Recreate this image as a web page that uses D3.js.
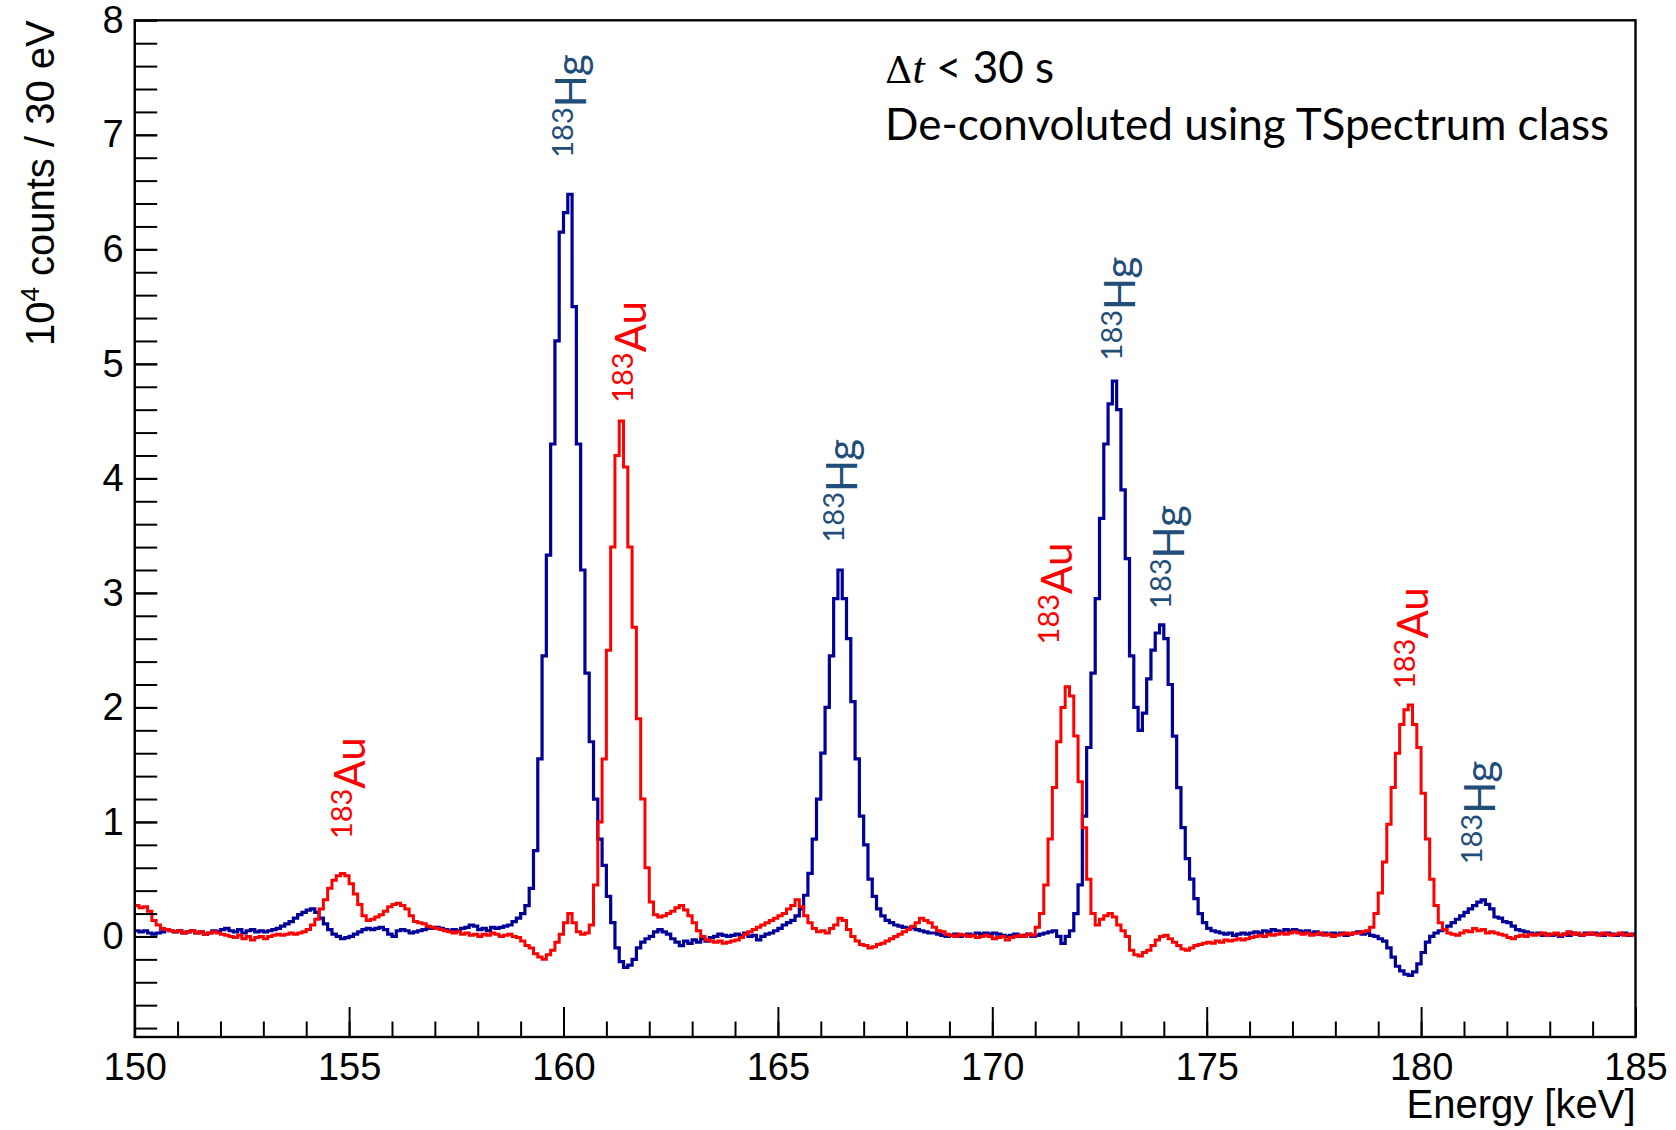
<!DOCTYPE html>
<html>
<head>
<meta charset="utf-8">
<script src="https://cdn.jsdelivr.net/npm/d3@7"></script>
<style>
  body { margin: 0; background: #fff; }
</style>
</head>
<body>
<svg id="chart" width="1676" height="1130"></svg>
<script>
// histogram binning: 0.1 keV bins from 150 keV
const binLow = 150;
const binWidth = 0.1;

// 183Hg spectrum, 10^4 counts, one row per keV
const hgCounts = [
  0.05, 0.04, 0.05, 0.03, 0.02, 0.03, 0.04, 0.06, 0.05, 0.04,
  0.05, 0.03, 0.04, 0.05, 0.03, 0.04, 0.02, 0.03, 0.05, 0.04,
  0.06, 0.07, 0.05, 0.04, 0.06, 0.03, 0.05, 0.06, 0.04, 0.05,
  0.04, 0.05, 0.06, 0.07, 0.09, 0.11, 0.13, 0.16, 0.19, 0.21,
  0.23, 0.24, 0.21, 0.16, 0.11, 0.06, 0.02, 0.00, -0.02, -0.01,
  0.00, 0.02, 0.04, 0.06, 0.07, 0.06, 0.07, 0.08, 0.06, 0.02,
  0.00, 0.05, 0.06, 0.05, 0.03, 0.04, 0.05, 0.06, 0.07, 0.07,
  0.08, 0.07, 0.06, 0.05, 0.06, 0.05, 0.07, 0.08, 0.10, 0.09,
  0.06, 0.07, 0.05, 0.08, 0.07, 0.08, 0.09, 0.10, 0.13, 0.16,
  0.20, 0.27, 0.42, 0.75, 1.55, 2.45, 3.33, 4.30, 5.20, 6.15,
  6.32, 6.48, 5.50, 4.30, 3.20, 2.30, 1.70, 1.20, 0.85, 0.62,
  0.35, 0.12, -0.10, -0.22, -0.27, -0.25, -0.20, -0.10, -0.05, -0.02,
  0.00, 0.04, 0.06, 0.04, 0.02, -0.02, -0.05, -0.08, -0.04, -0.06,
  -0.03, -0.05, -0.02, -0.04, -0.01, 0.00, 0.02, 0.01, 0.00, 0.01,
  0.02, 0.01, 0.03, 0.00, 0.01, -0.03, 0.00, 0.02, 0.03, 0.05,
  0.07, 0.10, 0.12, 0.14, 0.18, 0.24, 0.36, 0.55, 0.85, 1.20,
  1.60, 2.00, 2.45, 2.95, 3.20, 2.95, 2.60, 2.05, 1.55, 1.05,
  0.80, 0.50, 0.35, 0.24, 0.18, 0.14, 0.12, 0.10, 0.09, 0.08,
  0.07, 0.08, 0.06, 0.05, 0.04, 0.03, 0.03, 0.02, 0.01, 0.00,
  0.01, 0.02, 0.00, 0.01, 0.02, 0.01, 0.03, 0.02, 0.03, 0.02,
  0.03, 0.02, 0.01, 0.00, 0.01, 0.02, 0.00, 0.01, 0.02, 0.00,
  0.01, 0.02, 0.03, 0.04, 0.05, 0.00, -0.06, 0.00, 0.05, 0.20,
  0.45, 1.05, 1.65, 2.30, 2.95, 3.65, 4.30, 4.65, 4.85, 4.60,
  3.90, 3.30, 2.45, 2.00, 1.80, 1.95, 2.25, 2.50, 2.65, 2.72,
  2.60, 2.20, 1.75, 1.30, 0.95, 0.68, 0.50, 0.33, 0.20, 0.12,
  0.07, 0.05, 0.04, 0.03, 0.02, 0.03, 0.01, 0.02, 0.03, 0.02,
  0.03, 0.04, 0.03, 0.05, 0.04, 0.06, 0.05, 0.04, 0.06, 0.05,
  0.06, 0.05, 0.04, 0.05, 0.03, 0.04, 0.02, 0.03, 0.02, 0.03,
  0.02, 0.03, 0.01, 0.02, 0.03, 0.04, 0.02, 0.03, 0.01, 0.00,
  -0.02, -0.04, -0.10, -0.18, -0.26, -0.30, -0.33, -0.34, -0.31, -0.24,
  -0.14, -0.05, 0.00, 0.03, 0.05, 0.06, 0.09, 0.12, 0.15, 0.18,
  0.21, 0.24, 0.27, 0.30, 0.32, 0.28, 0.24, 0.17, 0.16, 0.13,
  0.12, 0.09, 0.06, 0.05, 0.04, 0.03, 0.02, 0.03, 0.01, 0.02,
  0.01, 0.02, 0.00, 0.02, 0.01, 0.03, 0.02, 0.01, 0.03, 0.02,
  0.03, 0.02, 0.01, 0.03, 0.02, 0.01, 0.02, 0.03, 0.01, 0.02
];

// 183Au spectrum, 10^4 counts, one row per keV
const auCounts = [
  0.27, 0.25, 0.26, 0.22, 0.14, 0.10, 0.07, 0.06, 0.05, 0.04,
  0.05, 0.03, 0.04, 0.05, 0.03, 0.04, 0.02, 0.03, 0.04, 0.03,
  0.02, 0.01, 0.00, -0.01, 0.01, -0.02, 0.00, -0.03, -0.01, 0.00,
  -0.02, 0.00, 0.01, 0.02, 0.01, 0.02, 0.03, 0.02, 0.03, 0.04,
  0.06, 0.10, 0.15, 0.24, 0.32, 0.42, 0.49, 0.53, 0.55, 0.53,
  0.46, 0.37, 0.28, 0.18, 0.14, 0.15, 0.17, 0.19, 0.22, 0.26,
  0.28, 0.29, 0.27, 0.24, 0.18, 0.13, 0.12, 0.11, 0.09, 0.08,
  0.07, 0.06, 0.05, 0.04, 0.03, 0.04, 0.02, 0.03, 0.01, 0.02,
  0.00, 0.02, 0.01, 0.03, 0.02, 0.00, 0.01, 0.02, 0.00, -0.01,
  -0.04, -0.08, -0.10, -0.15, -0.18, -0.20, -0.16, -0.12, -0.05, 0.02,
  0.12, 0.20, 0.12, 0.04, 0.02, 0.03, 0.10, 0.45, 1.00, 1.55,
  2.50, 3.40, 4.20, 4.50, 4.10, 3.40, 2.70, 1.90, 1.20, 0.60,
  0.30, 0.19, 0.17, 0.18, 0.20, 0.22, 0.25, 0.27, 0.23, 0.18,
  0.12, 0.05, 0.00, -0.03, -0.04, -0.05, -0.04, -0.06, -0.05, -0.04,
  -0.03, -0.01, 0.02, 0.04, 0.06, 0.08, 0.10, 0.12, 0.14, 0.16,
  0.18, 0.20, 0.24, 0.27, 0.32, 0.26, 0.18, 0.12, 0.07, 0.04,
  0.05, 0.03, 0.07, 0.10, 0.16, 0.14, 0.06, 0.00, -0.04, -0.07,
  -0.08, -0.10, -0.09, -0.07, -0.06, -0.04, -0.02, 0.00, 0.02, 0.04,
  0.06, 0.09, 0.12, 0.16, 0.14, 0.12, 0.08, 0.05, 0.04, 0.02,
  0.01, 0.00, 0.02, 0.01, 0.00, 0.01, -0.01, 0.00, 0.01, 0.00,
  -0.02, -0.01, 0.00, -0.03, -0.01, 0.00, 0.01, 0.00, 0.02, 0.01,
  0.08, 0.20, 0.45, 0.85, 1.30, 1.70, 2.00, 2.18, 2.10, 1.75,
  1.35, 0.95, 0.50, 0.20, 0.10, 0.15, 0.18, 0.20, 0.17, 0.10,
  0.05, 0.00, -0.12, -0.16, -0.17, -0.14, -0.12, -0.08, -0.03, 0.00,
  0.01, -0.02, -0.05, -0.08, -0.11, -0.12, -0.10, -0.08, -0.07, -0.06,
  -0.05, -0.06, -0.04, -0.05, -0.03, -0.04, -0.03, -0.02, -0.03, -0.02,
  -0.01, 0.00, 0.01, 0.00, 0.02, 0.01, 0.02, 0.03, 0.02, 0.03,
  0.04, 0.03, 0.02, 0.03, 0.01, 0.02, 0.03, 0.01, 0.02, 0.00,
  0.01, 0.02, 0.03, 0.02, 0.03, 0.03, 0.04, 0.05, 0.08, 0.20,
  0.38, 0.65, 0.98, 1.30, 1.60, 1.85, 1.98, 2.02, 1.85, 1.65,
  1.25, 0.85, 0.50, 0.27, 0.12, 0.06, 0.03, 0.02, 0.01, 0.03,
  0.05, 0.04, 0.07, 0.05, 0.06, 0.03, 0.04, 0.03, 0.02, 0.01,
  -0.01, -0.02, 0.00, 0.01, 0.00, 0.02, 0.01, 0.02, 0.03, 0.01,
  0.02, 0.03, 0.01, 0.02, 0.04, 0.02, 0.03, 0.01, 0.02, 0.03,
  0.02, 0.01, 0.03, 0.02, 0.01, 0.02, 0.03, 0.01, 0.02, 0.01
];

const xTicks = [150, 155, 160, 165, 170, 175, 180, 185];
const yTicks = [0, 1, 2, 3, 4, 5, 6, 7, 8];

// peak annotations: element, energy of text baseline, level where text starts
const labelElement = ['Au', 'Hg', 'Au', 'Hg', 'Au', 'Hg', 'Hg', 'Au', 'Hg'];
const labelEnergy = [155.36, 160.52, 161.92, 166.85, 171.86, 173.33, 174.47, 180.16, 181.72];
const labelLevel = [0.85, 6.8, 4.66, 3.44, 2.55, 5.03, 2.86, 2.16, 0.63];

const colors = { Hg: '#000099', Au: '#ff0000' };
const labelColors = { Hg: '#1f4e79', Au: '#ff0000' };

const svg = d3.select('#chart');
const frame = { left: 134.7, right: 1635.5, top: 20.3, bottom: 1037 };

const x = d3.scaleLinear().domain([150, 185]).range([frame.left, frame.right]);
const y = d3.scaleLinear().domain([-0.878, 8]).range([frame.bottom, frame.top]);

svg.append('rect')
  .attr('width', 1676).attr('height', 1130).attr('fill', '#fff');

svg.append('clipPath').attr('id', 'clip')
  .append('rect')
  .attr('x', frame.left).attr('y', frame.top)
  .attr('width', frame.right - frame.left)
  .attr('height', frame.bottom - frame.top);

const stepLine = d3.line()
  .x((d) => x(d[0]))
  .y((d) => y(d[1]))
  .curve(d3.curveStepAfter);

const toSteps = (counts) => {
  const pts = counts.map((v, i) => [binLow + i * binWidth, v]);
  pts.push([binLow + counts.length * binWidth, counts[counts.length - 1]]);
  return pts;
};

const plot = svg.append('g').attr('clip-path', 'url(#clip)');

plot.append('path')
  .attr('d', stepLine(toSteps(hgCounts)))
  .attr('fill', 'none')
  .attr('stroke', colors.Hg)
  .attr('stroke-width', 3.2);

plot.append('path')
  .attr('d', stepLine(toSteps(auCounts)))
  .attr('fill', 'none')
  .attr('stroke', colors.Au)
  .attr('stroke-width', 3);

// axes, ROOT style: ticks pointing inward
const yMajor = svg.append('g')
  .attr('transform', `translate(${frame.left},0)`)
  .call(d3.axisLeft(y).tickValues(yTicks).tickSize(-22.5).tickPadding(11));
svg.append('g')
  .attr('transform', `translate(${frame.left},0)`)
  .call(d3.axisLeft(y).tickValues(d3.range(-0.8, 8, 0.2)).tickSize(-22.5).tickFormat(''))
  .select('.domain').remove();

const xMajor = svg.append('g')
  .attr('transform', `translate(0,${frame.bottom})`)
  .call(d3.axisBottom(x).tickValues(xTicks).tickSize(-30).tickPadding(16));
svg.append('g')
  .attr('transform', `translate(0,${frame.bottom})`)
  .call(d3.axisBottom(x).tickValues(d3.range(151, 185, 1)).tickSize(-15.5).tickFormat(''))
  .select('.domain').remove();

svg.selectAll('.tick line').attr('stroke', '#000').attr('stroke-width', 2);
[yMajor, xMajor].forEach((g) => {
  g.selectAll('.tick text')
    .attr('font-family', '"Liberation Sans", Arial, sans-serif')
    .attr('font-size', 38)
    .attr('fill', '#000');
});

// frame
svg.append('rect')
  .attr('x', frame.left).attr('y', frame.top)
  .attr('width', frame.right - frame.left)
  .attr('height', frame.bottom - frame.top)
  .attr('fill', 'none')
  .attr('stroke', '#000')
  .attr('stroke-width', 2.4);

// axis titles
const yTitle = svg.append('text')
  .attr('transform', `translate(53.5,${frame.top}) rotate(-90)`)
  .attr('text-anchor', 'end')
  .attr('font-family', '"Liberation Sans", Arial, sans-serif')
  .attr('font-size', 40);
yTitle.append('tspan').text('10');
yTitle.append('tspan').attr('font-size', 26).attr('dy', -15).text('4');
yTitle.append('tspan').attr('dy', 15).text(' counts / 30 eV');

svg.append('text')
  .attr('x', frame.right).attr('y', 1118)
  .attr('text-anchor', 'end')
  .attr('font-family', '"Liberation Sans", Arial, sans-serif')
  .attr('font-size', 40)
  .text('Energy [keV]');

// info text
const info1 = svg.append('text')
  .attr('x', 885).attr('y', 83)
  .attr('font-family', 'Lato, sans-serif')
  .attr('font-size', 44);
info1.append('tspan').attr('font-family', '"DejaVu Serif", serif').attr('font-size', 38).text('Δ');
info1.append('tspan').attr('font-family', '"Liberation Serif", serif').attr('font-style', 'italic').attr('font-size', 44).text('t');
info1.append('tspan').text(' < 30 s');

svg.append('text')
  .attr('x', 885).attr('y', 140)
  .attr('font-family', 'Lato, sans-serif')
  .attr('font-size', 44)
  .attr('textLength', 724)
  .attr('lengthAdjust', 'spacingAndGlyphs')
  .text('De-convoluted using TSpectrum class');

// peak labels
labelElement.forEach((el, i) => {
  const t = svg.append('text')
    .attr('transform', `translate(${x(labelEnergy[i])},${y(labelLevel[i])}) rotate(-90)`)
    .attr('font-family', 'Lato, sans-serif')
    .attr('fill', labelColors[el]);
  t.append('tspan').attr('font-size', 29).attr('dy', -13).text('183');
  t.append('tspan').attr('font-size', 42).attr('dy', 13).text(el);
});
</script>
</body>
</html>
